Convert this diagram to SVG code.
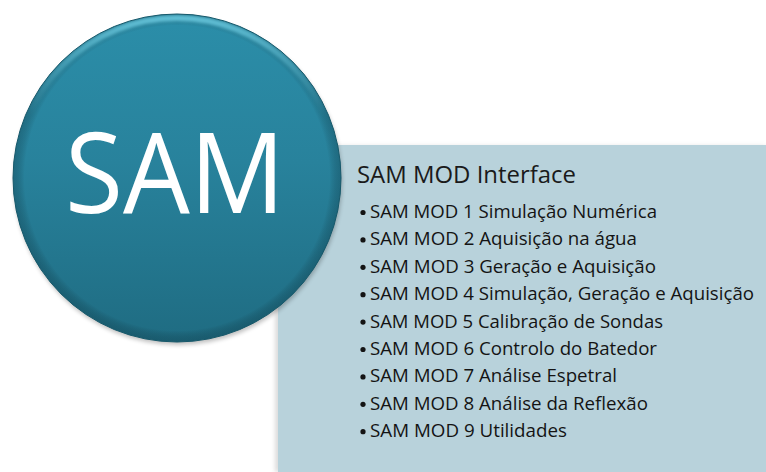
<svg xmlns="http://www.w3.org/2000/svg" width="766" height="472" viewBox="0 0 766 472">
  <defs>
    <linearGradient id="discFill" x1="0" y1="0" x2="0" y2="1">
      <stop offset="0" stop-color="#2b8ea9"/>
      <stop offset="0.45" stop-color="#28829c"/>
      <stop offset="1" stop-color="#1f6c82"/>
    </linearGradient>
    <radialGradient id="discRim" cx="0.5" cy="0.5" r="0.5">
      <stop offset="0.93" stop-color="#000" stop-opacity="0"/>
      <stop offset="1" stop-color="#0b3340" stop-opacity="0.3"/>
    </radialGradient>
    <linearGradient id="rimLight" x1="0" y1="0" x2="0" y2="1">
      <stop offset="0" stop-color="#6fd0e6" stop-opacity="0.8"/>
      <stop offset="0.3" stop-color="#6fd0e6" stop-opacity="0"/>
    </linearGradient>
    <clipPath id="discClip">
      <circle cx="177" cy="178" r="164"/>
    </clipPath>
    <filter id="soft" x="-10%" y="-10%" width="120%" height="120%">
      <feGaussianBlur stdDeviation="2"/>
    </filter>
    <filter id="glow" x="-10%" y="-10%" width="120%" height="120%">
      <feGaussianBlur stdDeviation="1.5"/>
    </filter>
    <style>
      .title { font-family: "Open Sans", "Noto Sans", sans-serif; font-size: 24px; fill: #1a1a1a; }
      .item { font-family: "Open Sans", "Noto Sans", sans-serif; font-size: 18.5px; fill: #141414; }
      .dot { fill: #141414; }
      .big { font-family: "Open Sans", "Noto Sans", sans-serif; font-size: 112px; fill: #ffffff; }
    </style>
  </defs>

  <!-- module list panel -->
  <g id="panel">
    <rect x="275" y="146" width="491" height="326" fill="#9a9a9a" opacity="0.35" filter="url(#soft)"/>
    <rect x="278" y="145" width="488" height="327" fill="#b8d2db"/>
    <text class="title" x="357" y="183" textLength="219" lengthAdjust="spacingAndGlyphs">SAM MOD Interface</text>
    <g id="items">
      <circle class="dot" cx="363" cy="212.5" r="2.6"/>
      <text class="item" x="370" y="218" textLength="287" lengthAdjust="spacingAndGlyphs">SAM MOD 1 Simulação Numérica</text>
      <circle class="dot" cx="363" cy="239.9" r="2.6"/>
      <text class="item" x="370" y="245.4" textLength="267" lengthAdjust="spacingAndGlyphs">SAM MOD 2 Aquisição na água</text>
      <circle class="dot" cx="363" cy="267.3" r="2.6"/>
      <text class="item" x="370" y="272.8" textLength="286" lengthAdjust="spacingAndGlyphs">SAM MOD 3 Geração e Aquisição</text>
      <circle class="dot" cx="363" cy="294.7" r="2.6"/>
      <text class="item" x="370" y="300.2" textLength="384" lengthAdjust="spacingAndGlyphs">SAM MOD 4 Simulação, Geração e Aquisição</text>
      <circle class="dot" cx="363" cy="322.1" r="2.6"/>
      <text class="item" x="370" y="327.6" textLength="293" lengthAdjust="spacingAndGlyphs">SAM MOD 5 Calibração de Sondas</text>
      <circle class="dot" cx="363" cy="349.5" r="2.6"/>
      <text class="item" x="370" y="355" textLength="287" lengthAdjust="spacingAndGlyphs">SAM MOD 6 Controlo do Batedor</text>
      <circle class="dot" cx="363" cy="376.9" r="2.6"/>
      <text class="item" x="370" y="382.4" textLength="247" lengthAdjust="spacingAndGlyphs">SAM MOD 7 Análise Espetral</text>
      <circle class="dot" cx="363" cy="404.3" r="2.6"/>
      <text class="item" x="370" y="409.8" textLength="278" lengthAdjust="spacingAndGlyphs">SAM MOD 8 Análise da Reflexão</text>
      <circle class="dot" cx="363" cy="431.7" r="2.6"/>
      <text class="item" x="370" y="437.2" textLength="197" lengthAdjust="spacingAndGlyphs">SAM MOD 9 Utilidades</text>
    </g>
  </g>

  <!-- SAM disc -->
  <g id="sam">
    <circle cx="178" cy="181" r="164" fill="#000" opacity="0.25" filter="url(#soft)"/>
    <circle cx="177" cy="178" r="164" fill="url(#discFill)"/>
    <circle cx="177" cy="178" r="164" fill="url(#discRim)"/>
    <g clip-path="url(#discClip)">
      <circle cx="177" cy="180" r="162" fill="none" stroke="url(#rimLight)" stroke-width="6" filter="url(#glow)"/>
    </g>
    <circle cx="177" cy="178" r="164" fill="none" stroke="#17596b" stroke-width="1"/>
    <text class="big" x="65" y="213" textLength="220" lengthAdjust="spacingAndGlyphs">SAM</text>
  </g>
</svg>
